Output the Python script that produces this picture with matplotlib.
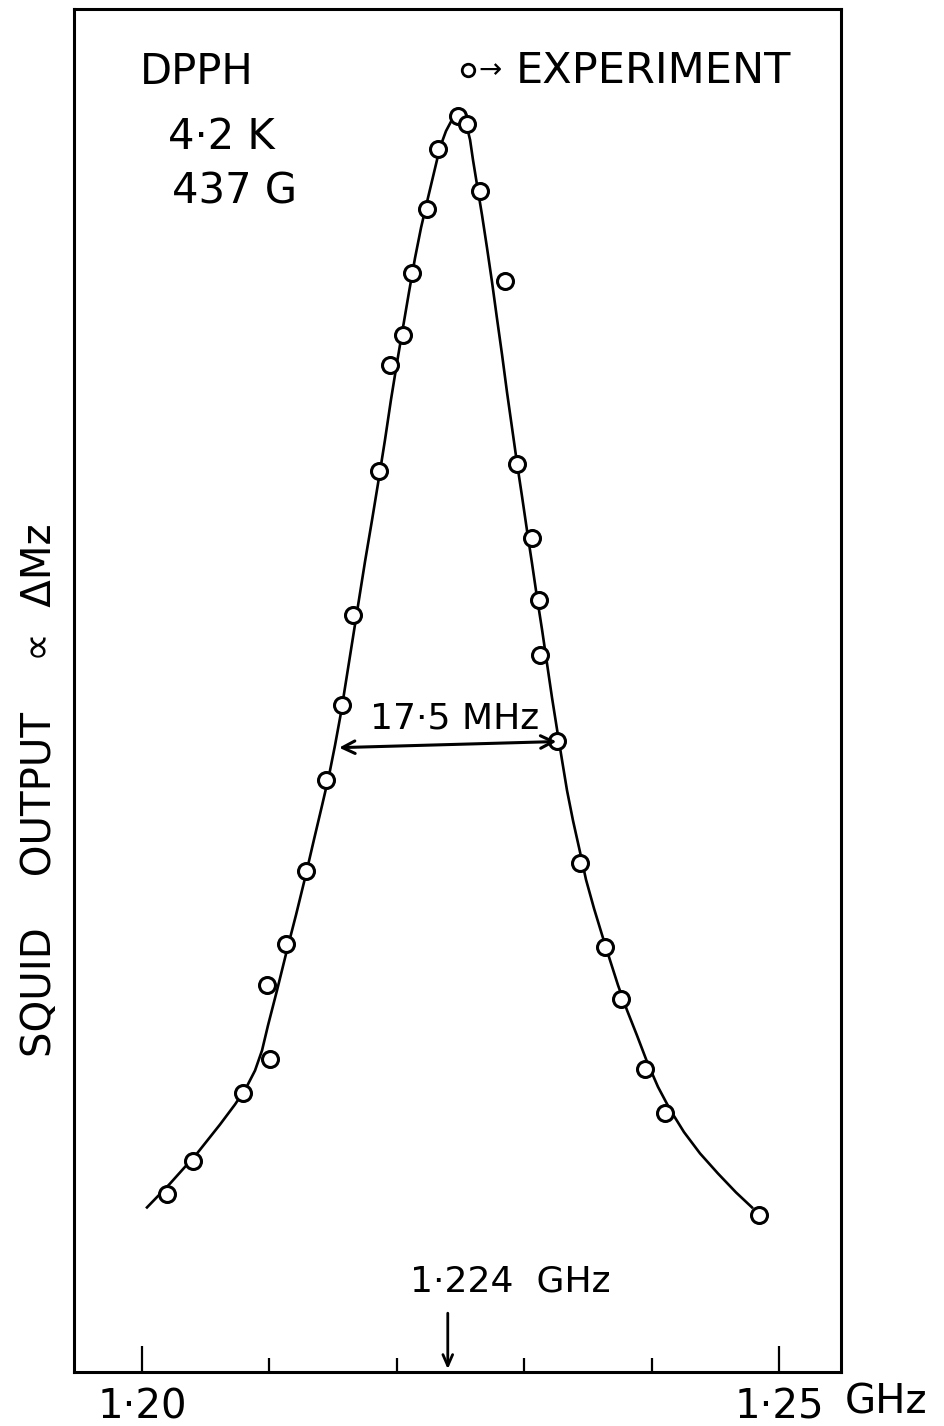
import numpy as np
import matplotlib
matplotlib.use("Agg")
import matplotlib.pyplot as plt
from matplotlib.ticker import FixedLocator, FixedFormatter

plt.rcParams['font.family'] = ['DejaVu Sans']

# measured points (frequency in GHz, squid output in arb. units, peak = 1)
freq = [1.20196, 1.20400, 1.20793, 1.21005, 1.20981, 1.21130, 1.21287, 1.21444,
        1.21570, 1.21656, 1.21860, 1.21947, 1.22049, 1.22119, 1.22237, 1.22323,
        1.22480, 1.22551, 1.22653, 1.22849, 1.22943, 1.23061, 1.23116, 1.23124,
        1.23257, 1.23438, 1.23634, 1.23760, 1.23948, 1.24105, 1.24843]
signal = [0.142, 0.168, 0.222, 0.249, 0.308, 0.341, 0.399, 0.471,
          0.531, 0.603, 0.717, 0.802, 0.826, 0.875, 0.926, 0.974,
          1.000, 0.994, 0.940, 0.869, 0.723, 0.664, 0.615, 0.571,
          0.502, 0.405, 0.338, 0.297, 0.241, 0.206, 0.125]

# hand drawn fit curve
curve_f = [1.20039, 1.20220, 1.20432, 1.20612, 1.20730, 1.20816, 1.20887, 1.20942,
           1.20989, 1.21060, 1.21138, 1.21209, 1.21279, 1.21350, 1.21413, 1.21468,
           1.21515, 1.21562, 1.21609, 1.21656, 1.21703, 1.21750, 1.21805, 1.21860,
           1.21907, 1.21954, 1.22002, 1.22049, 1.22096, 1.22143, 1.22190, 1.22245,
           1.22292, 1.22339, 1.22386, 1.22433, 1.22480, 1.22520, 1.22551, 1.22575,
           1.22598, 1.22630, 1.22669, 1.22708, 1.22747, 1.22786, 1.22826, 1.22865,
           1.22904, 1.22943, 1.22983, 1.23022, 1.23061, 1.23100, 1.23140, 1.23179,
           1.23218, 1.23257, 1.23297, 1.23336, 1.23383, 1.23438, 1.23485, 1.23548,
           1.23611, 1.23673, 1.23736, 1.23807, 1.23885, 1.23964, 1.24050, 1.24144,
           1.24254, 1.24380, 1.24521, 1.24662, 1.24788]
curve_s = [0.131, 0.150, 0.174, 0.197, 0.213, 0.226, 0.240, 0.256,
           0.276, 0.304, 0.336, 0.364, 0.393, 0.424, 0.451, 0.475,
           0.499, 0.525, 0.555, 0.585, 0.615, 0.645, 0.678, 0.712,
           0.742, 0.774, 0.804, 0.832, 0.860, 0.887, 0.911, 0.935,
           0.955, 0.975, 0.988, 0.997, 1.000, 0.998, 0.991, 0.981,
           0.965, 0.945, 0.921, 0.895, 0.868, 0.839, 0.810, 0.780,
           0.752, 0.724, 0.697, 0.670, 0.644, 0.617, 0.591, 0.564,
           0.537, 0.512, 0.487, 0.463, 0.439, 0.414, 0.392, 0.369,
           0.348, 0.328, 0.308, 0.288, 0.268, 0.247, 0.227, 0.209,
           0.191, 0.174, 0.158, 0.143, 0.131]

center = 1.224   # GHz
fwhm = 0.0175    # GHz
major_ticks = [1.20, 1.25]
major_labels = ['1·20', '1·25']
minor_ticks = [1.21, 1.22, 1.23, 1.24]

fig = plt.figure(figsize=(9.45, 14.26), dpi=100)
ax = fig.add_axes([0.0783, 0.0379, 0.8117, 0.9558])

ax.plot(curve_f, curve_s, color='black', lw=1.9, zorder=2)
ax.plot(freq, signal, 'o', ms=11.5, mfc='white', mec='black', mew=2.2, zorder=3)

ax.set_xlim(1.19466, 1.25487)
ax.set_ylim(0, 1.0852)

for sp in ax.spines.values():
    sp.set_linewidth(2.2)

ax.xaxis.set_major_locator(FixedLocator(major_ticks))
ax.xaxis.set_major_formatter(FixedFormatter(major_labels))
ax.xaxis.set_minor_locator(FixedLocator(minor_ticks))
ax.tick_params(axis='x', which='major', direction='in', length=19, width=1.6,
               labelsize=29, pad=11)
ax.tick_params(axis='x', which='minor', direction='in', length=10, width=1.6)
ax.set_yticks([])

# half width arrow
ax.annotate('', xy=(center - fwhm / 2, 0.497), xytext=(center + fwhm / 2, 0.502),
            arrowprops=dict(arrowstyle='<->, head_length=0.9, head_width=0.45',
                            lw=2.2, color='black'))
ax.text(center + 0.0005, 0.52, '17·5 MHz', fontsize=26, ha='center', va='center')

# centre frequency marker
ax.annotate('', xy=(center, 0.0), xytext=(center, 0.049),
            arrowprops=dict(arrowstyle='->, head_length=0.8, head_width=0.35',
                            lw=2.0, color='black'))
ax.text(1.2210, 0.0717, '1·224  GHz', fontsize=26, ha='left', va='center')

# sample info
fig.text(140 / 945, 1 - 72 / 1426, 'DPPH', fontsize=30, ha='left', va='center')
fig.text(168 / 945, 1 - 137 / 1426, '4·2 K', fontsize=30, ha='left', va='center')
fig.text(172 / 945, 1 - 192 / 1426, '437 G', fontsize=30, ha='left', va='center')

# legend
ax.plot([0.514], [0.955], 'o', ms=9, mfc='white', mec='black', mew=2.0,
        transform=ax.transAxes, clip_on=False)
fig.text(478 / 945, 1 - 70 / 1426, '→', fontsize=20, ha='left', va='center')
fig.text(516 / 945, 1 - 71 / 1426, 'EXPERIMENT', fontsize=31, ha='left', va='center')

fig.text(845 / 945, 1 - 1403 / 1426, 'GHz', fontsize=29, ha='left', va='center')

fig.text(40 / 945, 1 - 790 / 1426, 'SQUID    OUTPUT    ∝  ΔMz', fontsize=29,
         rotation=90, ha='center', va='center')

fig.savefig('out.png', dpi=100)
